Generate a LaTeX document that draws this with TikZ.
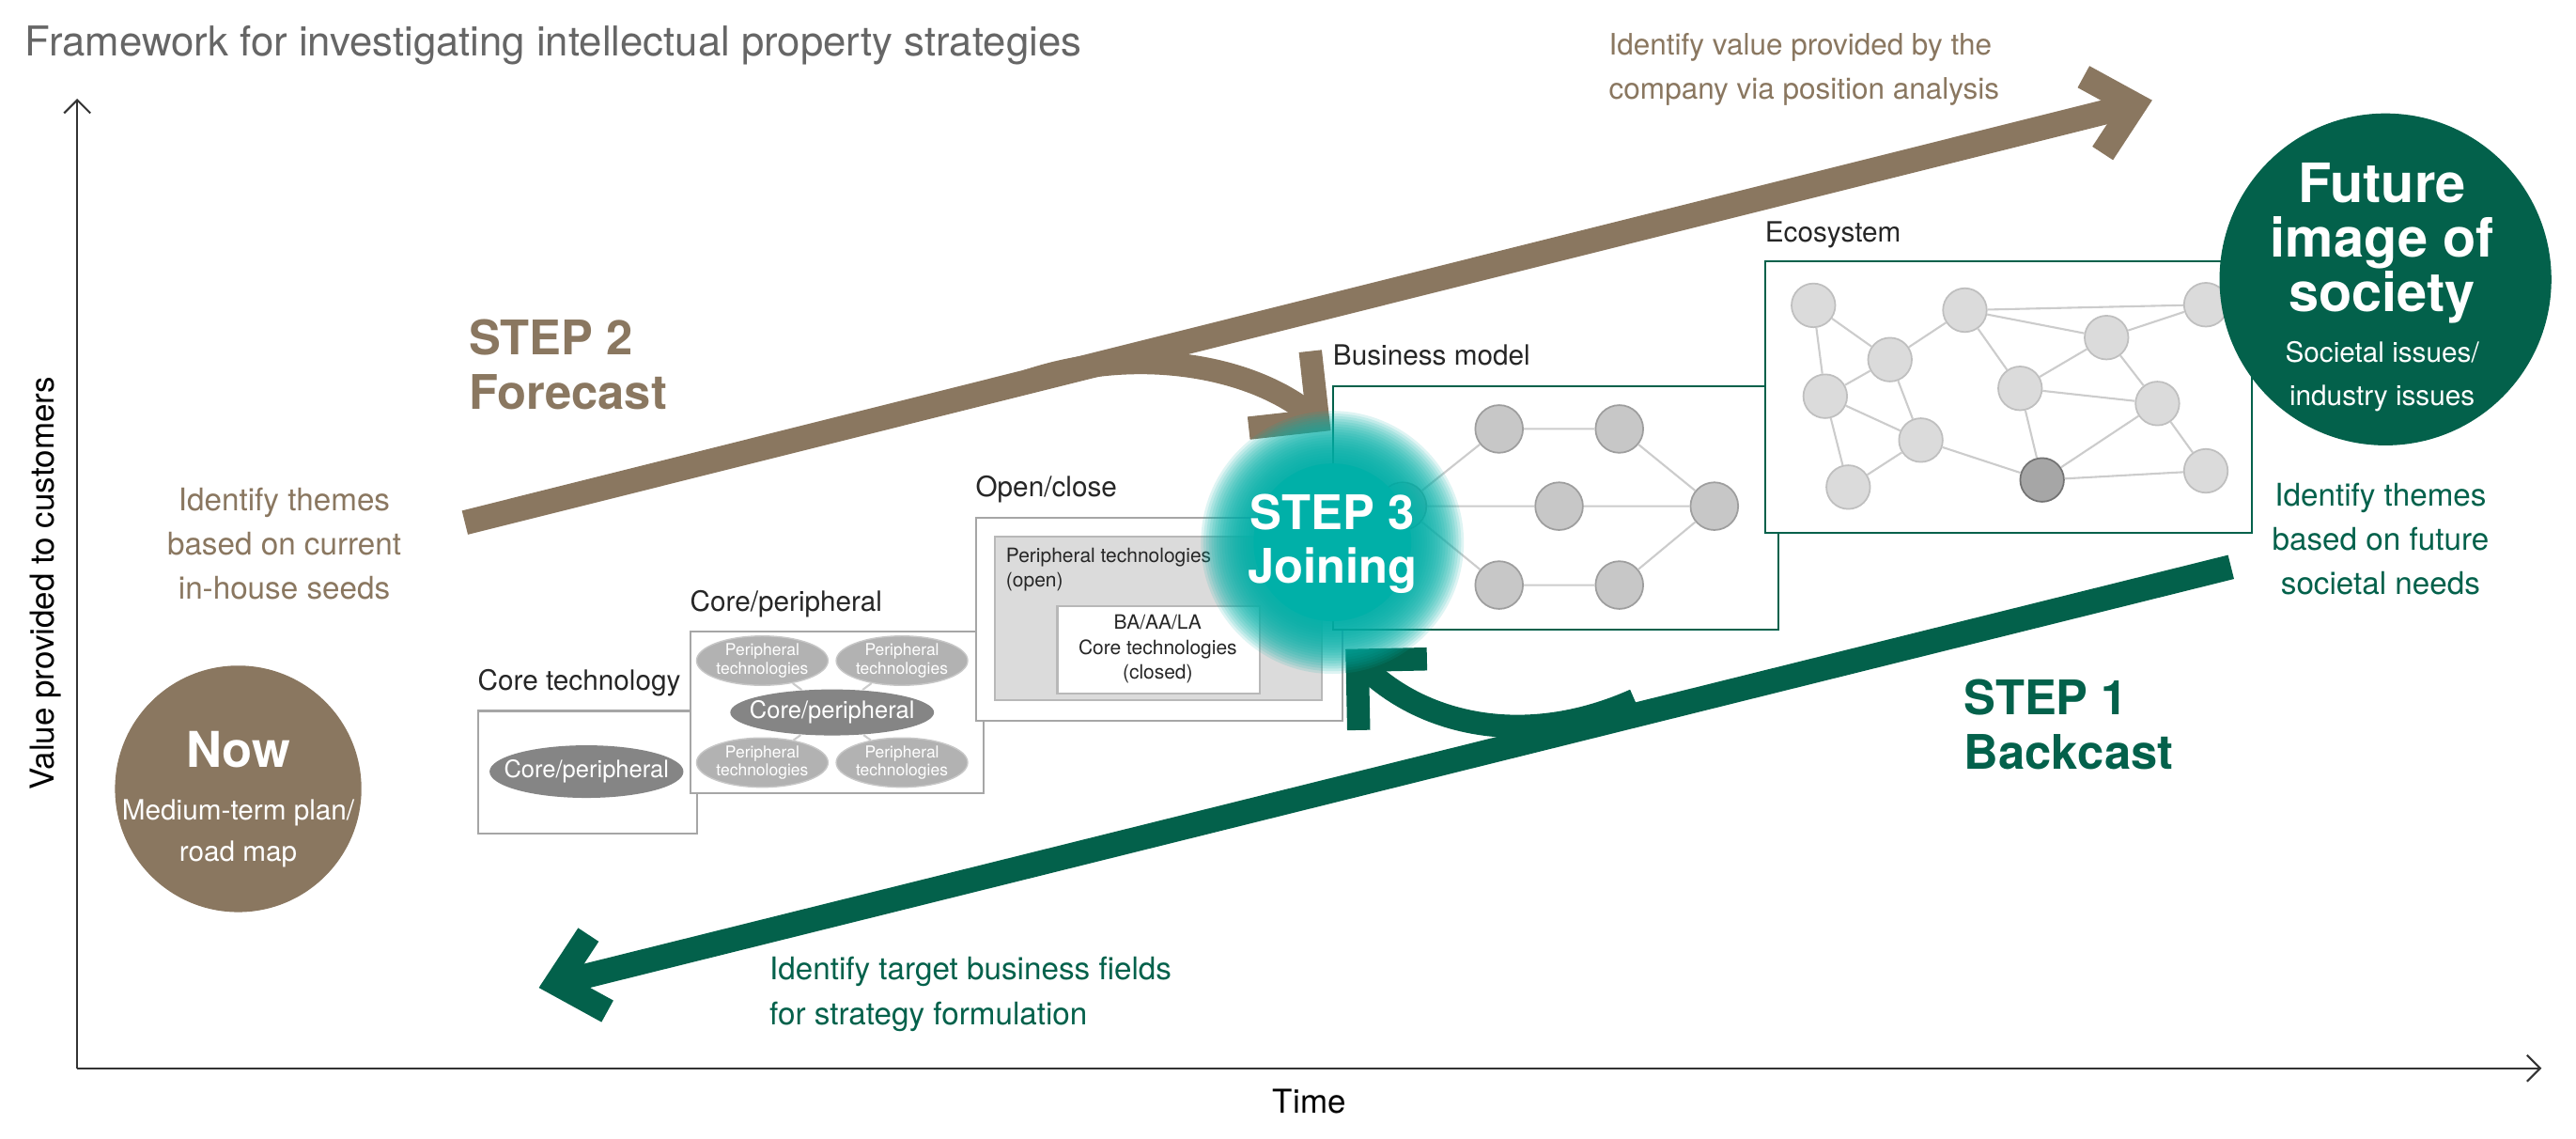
\documentclass[tikz,border=0pt]{standalone}
\usepackage{fontspec}
\setmainfont{TeX Gyre Heros}
\usetikzlibrary{arrows.meta,shapes.geometric}
\definecolor{cbrown}{HTML}{8A7760}
\definecolor{cgreen}{HTML}{03614B}
\definecolor{cteal}{HTML}{00B0A8}
\definecolor{ctitle}{HTML}{666666}
\tikzset{
  lbl/.style={font=\fontsize{8.5}{10}\selectfont, text=black!85, anchor=base west, inner sep=0pt},
  box/.style={draw=black!35, line width=0.6pt, fill=white, anchor=north west, inner sep=0pt},
  gbox/.style={draw=cgreen, line width=0.6pt, fill=white, anchor=north west, inner sep=0pt},
  dell/.style={ellipse, fill=black!48, inner sep=0pt},
  pell/.style={ellipse, fill=black!30, draw=black!22, inner sep=0pt, minimum width=40pt, minimum height=15pt},
  ptxt/.style={text=white, align=center, inner sep=0pt, font=\fontsize{5}{5.5}\selectfont},
  ctxt/.style={text=white, inner sep=0pt, font=\fontsize{7.3}{8}\selectfont},
  bnode/.style={circle, fill=black!22, draw=black!38, line width=0.5pt, minimum size=14.5pt, inner sep=0pt},
  enode/.style={circle, fill=black!14, draw=black!25, line width=0.5pt, minimum size=13.3pt, inner sep=0pt},
  edge/.style={draw=black!20, line width=0.6pt},
  btxt/.style={text=cbrown, font=\fontsize{9.5}{13.5}\selectfont, inner sep=0pt},
  gtxt/.style={text=cgreen, font=\fontsize{9.5}{13.5}\selectfont, inner sep=0pt},
  steptxt/.style={font=\bfseries\fontsize{14.5}{16.5}\selectfont, inner sep=0pt, align=left},
  bigarrow/.style={line width=7.5pt, -{Straight Barb[length=13pt,width=24pt]}, line join=miter},
  curvarrow/.style={line width=7pt, -{Straight Barb[length=15pt,width=30pt]}, line join=miter},
}
\begin{document}
\begin{tikzpicture}[x=0.5pt,y=-0.5pt]
\useasboundingbox[fill=white] (0,0) rectangle (1568,693);
% title
\node[anchor=base west, text=ctitle, font=\fontsize{12.5}{14}\selectfont, inner sep=0pt] (title) at (15,34) {Framework for investigating intellectual property strategies};
% axes
\coordinate (o) at (47,650);
\coordinate (ytop) at (47,60);
\coordinate (xend) at (1547,650);
\draw[black!80, line width=0.6pt, -{Straight Barb[length=4pt,width=8pt]}] (o) -- (ytop);
\draw[black!80, line width=0.6pt, -{Straight Barb[length=4pt,width=8pt]}] (o) -- (xend);
\node[rotate=90, font=\fontsize{10}{12}\selectfont, inner sep=0pt] (ylab) at (28,355) {Value provided to customers};
\node[font=\fontsize{10}{12}\selectfont, inner sep=0pt] (xlab) at (797,670) {Time};

% boxes
\node[lbl] (l1) at (290.5,420) {Core technology};
\node[box, minimum width=66.7pt, minimum height=37.2pt] (b1) at (290.5,432) {};
\node[dell, minimum width=59pt, minimum height=16pt] (e1) at (357,469.5) {};
\node[ctxt] (e1t) at (e1) {Core/peripheral};

\node[lbl] (l2) at (419.7,371.7) {Core/peripheral};
\node[box, minimum width=89.2pt, minimum height=49.2pt] (b2) at (419.7,383.6) {};
\node[pell] (p1) at (464,402) {};
\node[pell] (p2) at (549,402) {};
\node[pell] (p3) at (464,464) {};
\node[pell] (p4) at (549,464) {};
\node[dell, minimum width=62pt, minimum height=14pt] (e2) at (506.5,433.5) {};
\path[edge] (p1) -- (e2) (p2) -- (e2) (p3) -- (e2) (p4) -- (e2);
\node[ptxt] (p1t) at (p1) {Peripheral\\technologies};
\node[ptxt] (p2t) at (p2) {Peripheral\\technologies};
\node[ptxt] (p3t) at (p3) {Peripheral\\technologies};
\node[ptxt] (p4t) at (p4) {Peripheral\\technologies};
\node[ctxt] (e2t) at (e2) {Core/peripheral};

\node[lbl] (l3) at (593.5,302) {Open/close};
\node[box, minimum width=111.5pt, minimum height=61.7pt] (b3) at (593.5,314.5) {};
\node[box, fill=black!14, draw=black!28, minimum width=99.5pt, minimum height=49.7pt] (b3g) at (605,326) {};
\node[anchor=north west, align=left, inner sep=0pt, font=\fontsize{6}{7.5}\selectfont, text=black!85] (t3) at (612,333) {Peripheral technologies\\(open)};
\node[box, draw=black!28, minimum width=61.7pt, minimum height=26.7pt] (b3w) at (643,368) {};
\node[align=center, inner sep=0pt, font=\fontsize{6}{7.5}\selectfont, text=black!85] (t3w) at (704.7,395) {BA/AA/LA\\Core technologies\\(closed)};

% business model
\node[lbl] (l4) at (811,222) {Business model};
\node[gbox, minimum width=135.5pt, minimum height=74pt] (b4) at (811,234.6) {};
\node[bnode] (m1) at (912.5,261) {};
\node[bnode] (m2) at (985.7,261) {};
\node[bnode] (m0) at (853.7,308) {};
\node[bnode] (m3) at (949,308) {};
\node[bnode] (m4) at (1043.5,308) {};
\node[bnode] (m5) at (912.5,356) {};
\node[bnode] (m6) at (985.7,356) {};
\path[edge] (m1) -- (m2) (m2) -- (m4) (m4) -- (m6) (m6) -- (m5) (m5) -- (m0) (m0) -- (m1) (m0) -- (m3) (m3) -- (m4);

% ecosystem
\node[lbl] (l5) at (1074,147) {Ecosystem};
\node[gbox, minimum width=148pt, minimum height=82.6pt] (b5) at (1074,158.5) {};
\node[enode] (A) at (1103.8,185.8) {};
\node[enode] (B) at (1196,188.7) {};
\node[enode] (C) at (1150.4,218.8) {};
\node[enode] (D) at (1282.2,205.4) {};
\node[enode] (E) at (1342.7,185.4) {};
\node[enode] (F) at (1111,241.1) {};
\node[enode] (G) at (1229.6,236.3) {};
\node[enode] (H) at (1313.2,245.5) {};
\node[enode] (I) at (1169.2,267.8) {};
\node[enode] (J) at (1125,296.4) {};
\node[enode, fill=black!35, draw=black!55] (K) at (1243,292) {};
\node[enode] (L) at (1342.7,286.5) {};
\path[edge] (A) -- (C) (A) -- (F) (C) -- (B) (B) -- (E) (B) -- (D) (D) -- (E) (B) -- (G) (D) -- (G) (D) -- (H) (G) -- (H) (C) -- (I) (F) -- (C) (F) -- (I) (F) -- (J) (I) -- (J) (I) -- (K) (G) -- (K) (H) -- (K) (K) -- (L) (H) -- (L);

% future circle
\node[circle, fill=cgreen, minimum size=101pt, inner sep=0pt] (fut) at (1452,170) {};
\node[text=white, align=center, font=\bfseries\fontsize{16.5}{16.5}\selectfont, inner sep=0pt] (futt) at (1450,148) {Future\\image of\\society};
\node[text=white, align=center, font=\fontsize{8.5}{13}\selectfont, inner sep=0pt] (futs) at (1450,229) {Societal issues/\\industry issues};

% now circle
\node[circle, fill=cbrown, minimum size=75pt, inner sep=0pt] (now) at (145,480) {};
\node[text=white, font=\bfseries\fontsize{15}{16}\selectfont, inner sep=0pt] (nowt) at (145,456) {Now};
\node[text=white, align=center, font=\fontsize{8.5}{12.5}\selectfont, inner sep=0pt] (nows) at (145,507) {Medium-term plan/\\road map};

% brown arrows
\coordinate (ba) at (283,318);
\coordinate (bb) at (1310,61);
\draw[cbrown, bigarrow] (ba) -- (bb);
\coordinate (bc1) at (625,232);
\coordinate (bc2) at (690,210);
\coordinate (bc3) at (760,222);
\coordinate (bc4) at (810,262);
\draw[cbrown, curvarrow] (bc1) .. controls (bc2) and (bc3) .. (bc4);

% green arrows
\coordinate (ga) at (1358,345);
\coordinate (gb) at (328,601);
\draw[cgreen, bigarrow] (ga) -- (gb);
\coordinate (gc1) at (995,426);
\coordinate (gc2) at (930,455);
\coordinate (gc3) at (868,442);
\coordinate (gc4) at (819,395);
\draw[cgreen, curvarrow] (gc1) .. controls (gc2) and (gc3) .. (gc4);

% glow
\foreach \i in {0,...,19} {\fill[cteal, fill opacity=0.13] (811,330) circle ({80-\i*1.6});}
\fill[cteal] (811,330) circle (48);
\node[text=white, steptxt, align=center] (s3) at (811,331) {STEP 3\\Joining};

% texts
\node[btxt, anchor=north west, align=left, font=\fontsize{9}{13.5}\selectfont] (tv) at (979,20) {Identify value provided by the\\company via position analysis};
\node[steptxt, text=cbrown, anchor=west] (s2) at (285,222) {STEP 2\\Forecast};
\node[btxt, align=center] (tc) at (173,331) {Identify themes\\based on current\\in-house seeds};
\node[gtxt, align=center] (tf) at (1449,328) {Identify themes\\based on future\\societal needs};
\node[steptxt, text=cgreen, anchor=west] (s1) at (1195,441) {STEP 1\\Backcast};
\node[gtxt, align=left, anchor=west] (tt) at (468,605) {Identify target business fields\\for strategy formulation};
\end{tikzpicture}
\end{document}
